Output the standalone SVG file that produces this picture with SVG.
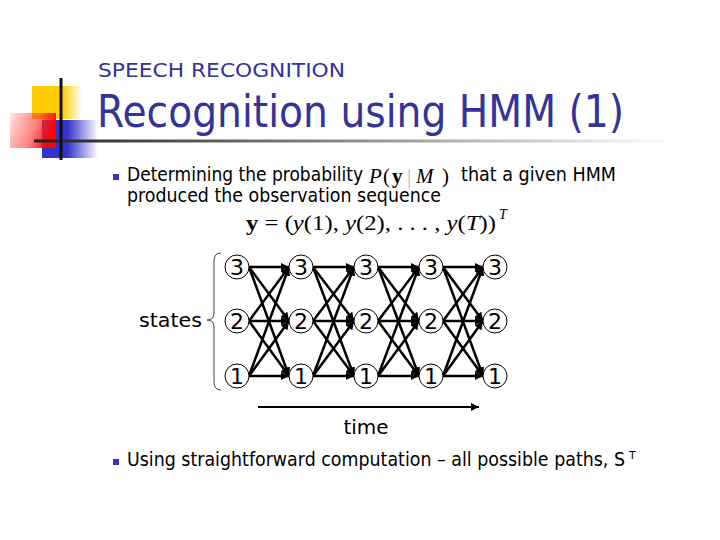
<svg xmlns="http://www.w3.org/2000/svg" width="720" height="540" viewBox="0 0 720 540">
  <defs>
    <linearGradient id="gYel" x1="0" y1="0" x2="1" y2="0">
      <stop offset="0" stop-color="#FFCC00"/>
      <stop offset="0.6" stop-color="#FFCC00"/>
      <stop offset="1" stop-color="#FFCC00" stop-opacity="0"/>
    </linearGradient>
    <linearGradient id="gBlue" x1="0" y1="0" x2="1" y2="0">
      <stop offset="0" stop-color="#3333CC"/>
      <stop offset="0.45" stop-color="#3333CC"/>
      <stop offset="1" stop-color="#3333CC" stop-opacity="0"/>
    </linearGradient>
    <linearGradient id="gRed" x1="0" y1="0" x2="1" y2="0.3">
      <stop offset="0" stop-color="#FF0000" stop-opacity="0.08"/>
      <stop offset="0.6" stop-color="#FF3333" stop-opacity="0.6"/>
      <stop offset="1" stop-color="#FF0000"/>
    </linearGradient>
    <linearGradient id="gLine" x1="0" y1="0" x2="1" y2="0">
      <stop offset="0" stop-color="#222222"/>
      <stop offset="0.4" stop-color="#777777"/>
      <stop offset="1" stop-color="#FFFFFF"/>
    </linearGradient>
    <marker id="ah" viewBox="0 0 10 10" refX="10" refY="5" markerWidth="3.4" markerHeight="3.4" orient="auto" markerUnits="strokeWidth">
      <path d="M0,0 L10,5 L0,10 z" fill="#000"/>
    </marker>
    <marker id="ahT" viewBox="0 0 10 10" refX="10" refY="5" markerWidth="5" markerHeight="4" orient="auto" markerUnits="strokeWidth">
      <path d="M0,0 L10,5 L0,10 z" fill="#000"/>
    </marker>
  </defs>
  <style>
    .title { font-family: Tahoma, "DejaVu Sans", sans-serif; fill: #333399; }
    .body { font-family: Tahoma, "DejaVu Sans", sans-serif; font-size: 19px; fill: #000; }
    .lbl { font-family: Tahoma, "DejaVu Sans", sans-serif; font-size: 20px; fill: #000; }
    .sup { font-family: Tahoma, "DejaVu Sans", sans-serif; font-size: 11px; fill: #000; }
    .math { font-family: "Liberation Serif", "DejaVu Serif", serif; font-size: 21px; fill: #000; }
    .msup { font-family: "Liberation Serif", "DejaVu Serif", serif; font-size: 14px; font-style: italic; fill: #000; }
    .bullet { fill: #3333CC; }
    .node circle { fill: #fff; stroke: #000; stroke-width: 1; }
    .node text { font-family: Tahoma, "DejaVu Sans", sans-serif; font-size: 22px; text-anchor: middle; fill: #000; }
    .edges line { stroke: #000; stroke-width: 2.5; marker-end: url(#ah); }
  </style>
  <rect width="720" height="540" fill="#fff"/>

  <!-- decoration -->
  <g id="decoration">
    <rect x="32" y="86" width="50" height="33" fill="url(#gYel)"/>
    <rect x="42" y="120" width="56" height="38" fill="url(#gBlue)"/>
    <rect x="10" y="113" width="46" height="35" fill="url(#gRed)"/>
    <rect x="34" y="139.5" width="640" height="3" fill="url(#gLine)"/>
    <rect x="59.5" y="78" width="3" height="82" fill="#111"/>
  </g>

  <!-- titles -->
  <text class="title" x="98" y="77" style="font-size:20px" textLength="247" lengthAdjust="spacingAndGlyphs">SPEECH RECOGNITION</text>
  <text class="title" x="97" y="127" style="font-size:44px" textLength="527" lengthAdjust="spacingAndGlyphs">Recognition using HMM (1)</text>

  <!-- bullet 1 -->
  <rect class="bullet" x="113" y="174" width="6" height="6"/>
  <text class="body" x="127" y="181" textLength="236" lengthAdjust="spacingAndGlyphs">Determining the probability</text>
  <text class="math" y="183"><tspan x="369" font-style="italic">P</tspan><tspan x="383">(</tspan><tspan x="392" font-weight="bold">y</tspan><tspan x="407" fill="#bbb">|</tspan><tspan x="416" font-style="italic">M</tspan><tspan x="442">)</tspan></text>
  <text class="body" x="461" y="181" textLength="155" lengthAdjust="spacingAndGlyphs">that a given HMM</text>
  <text class="body" x="127" y="202" textLength="314" lengthAdjust="spacingAndGlyphs">produced the observation sequence</text>
  <text class="math" x="246" y="230" textLength="250" lengthAdjust="spacingAndGlyphs"><tspan font-weight="bold">y</tspan> = (<tspan font-style="italic">y</tspan>(1), <tspan font-style="italic">y</tspan>(2), . . . , <tspan font-style="italic">y</tspan>(<tspan font-style="italic">T</tspan>))</text>
  <text class="msup" x="499" y="219">T</text>

  <!-- states brace & label -->
  <text class="lbl" x="139" y="327" textLength="63" lengthAdjust="spacingAndGlyphs">states</text>
  <path d="M221,253 Q214,253 214,261 L214,313 Q214,320 207,320 Q214,320 214,327 L214,382 Q214,390 221,390" fill="none" stroke="#444" stroke-width="1"/>

  <!-- connectors -->
  <g id="connectors" class="edges">
    <line x1="249" y1="267" x2="289" y2="267"/><line x1="249" y1="267" x2="289" y2="321"/><line x1="249" y1="267" x2="289" y2="376"/>
    <line x1="249" y1="321" x2="289" y2="267"/><line x1="249" y1="321" x2="289" y2="321"/><line x1="249" y1="321" x2="289" y2="376"/>
    <line x1="249" y1="376" x2="289" y2="267"/><line x1="249" y1="376" x2="289" y2="321"/><line x1="249" y1="376" x2="289" y2="376"/>
    <line x1="313" y1="267" x2="354" y2="267"/><line x1="313" y1="267" x2="354" y2="321"/><line x1="313" y1="267" x2="354" y2="376"/>
    <line x1="313" y1="321" x2="354" y2="267"/><line x1="313" y1="321" x2="354" y2="321"/><line x1="313" y1="321" x2="354" y2="376"/>
    <line x1="313" y1="376" x2="354" y2="267"/><line x1="313" y1="376" x2="354" y2="321"/><line x1="313" y1="376" x2="354" y2="376"/>
    <line x1="378" y1="267" x2="419" y2="267"/><line x1="378" y1="267" x2="419" y2="321"/><line x1="378" y1="267" x2="419" y2="376"/>
    <line x1="378" y1="321" x2="419" y2="267"/><line x1="378" y1="321" x2="419" y2="321"/><line x1="378" y1="321" x2="419" y2="376"/>
    <line x1="378" y1="376" x2="419" y2="267"/><line x1="378" y1="376" x2="419" y2="321"/><line x1="378" y1="376" x2="419" y2="376"/>
    <line x1="443" y1="267" x2="483" y2="267"/><line x1="443" y1="267" x2="483" y2="321"/><line x1="443" y1="267" x2="483" y2="376"/>
    <line x1="443" y1="321" x2="483" y2="267"/><line x1="443" y1="321" x2="483" y2="321"/><line x1="443" y1="321" x2="483" y2="376"/>
    <line x1="443" y1="376" x2="483" y2="267"/><line x1="443" y1="376" x2="483" y2="321"/><line x1="443" y1="376" x2="483" y2="376"/>
  </g>

  <!-- nodes -->
  <g id="n1_3" class="node"><circle cx="237" cy="267" r="12"/><text x="237" y="275">3</text></g>
  <g id="n1_2" class="node"><circle cx="237" cy="321" r="12"/><text x="237" y="329">2</text></g>
  <g id="n1_1" class="node"><circle cx="237" cy="376" r="12"/><text x="237" y="384">1</text></g>
  <g id="n2_3" class="node"><circle cx="301" cy="267" r="12"/><text x="301" y="275">3</text></g>
  <g id="n2_2" class="node"><circle cx="301" cy="321" r="12"/><text x="301" y="329">2</text></g>
  <g id="n2_1" class="node"><circle cx="301" cy="376" r="12"/><text x="301" y="384">1</text></g>
  <g id="n3_3" class="node"><circle cx="366" cy="267" r="12"/><text x="366" y="275">3</text></g>
  <g id="n3_2" class="node"><circle cx="366" cy="321" r="12"/><text x="366" y="329">2</text></g>
  <g id="n3_1" class="node"><circle cx="366" cy="376" r="12"/><text x="366" y="384">1</text></g>
  <g id="n4_3" class="node"><circle cx="431" cy="267" r="12"/><text x="431" y="275">3</text></g>
  <g id="n4_2" class="node"><circle cx="431" cy="321" r="12"/><text x="431" y="329">2</text></g>
  <g id="n4_1" class="node"><circle cx="431" cy="376" r="12"/><text x="431" y="384">1</text></g>
  <g id="n5_3" class="node"><circle cx="495" cy="267" r="12"/><text x="495" y="275">3</text></g>
  <g id="n5_2" class="node"><circle cx="495" cy="321" r="12"/><text x="495" y="329">2</text></g>
  <g id="n5_1" class="node"><circle cx="495" cy="376" r="12"/><text x="495" y="384">1</text></g>

  <!-- time arrow -->
  <line x1="258" y1="407" x2="479" y2="407" stroke="#000" stroke-width="2" marker-end="url(#ahT)"/>
  <text class="lbl" x="366" y="434" text-anchor="middle">time</text>

  <!-- bullet 2 -->
  <rect class="bullet" x="113" y="459" width="6" height="6"/>
  <text class="body" x="127" y="466" textLength="498" lengthAdjust="spacingAndGlyphs">Using straightforward computation – all possible paths, S</text>
  <text class="sup" x="629" y="459">T</text>
</svg>
